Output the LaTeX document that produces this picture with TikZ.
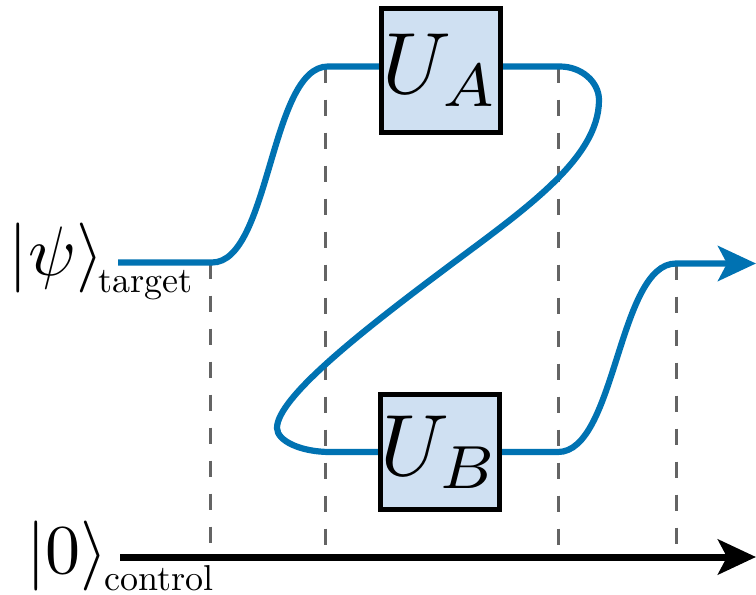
\documentclass[tikz,border=0pt]{standalone}
\usepackage{graphicx}
\usetikzlibrary{arrows.meta}
\definecolor{qblue}{RGB}{0,114,178}
\definecolor{boxfill}{RGB}{207,224,242}
\definecolor{dashgray}{RGB}{100,100,100}
\pgfdeclarelayer{bg}
\pgfsetlayers{bg,main}
\begin{document}
\begin{tikzpicture}[x=1pt,y=-1pt,
  wire/.style={qblue,line width=6.2pt},
  cwire/.style={black,line width=7pt},
  gate/.style={draw=black,line width=5pt,fill=boxfill,inner sep=0pt},
  guide/.style={dashgray,line width=3pt,dash pattern=on 16pt off 17pt},
  tipb/.style={-{Stealth[length=38pt,width=35pt,inset=9pt]}},
  lbl/.style={anchor=base west,inner sep=0pt}]
\useasboundingbox (0,0) rectangle (756,595);

% gates
\node[gate,minimum width=119pt,minimum height=124pt] (UA) at (441,70.5) {\scalebox{8.7}{$U_A$}};
\node[gate,minimum width=117pt,minimum height=115pt] (UB) at (440,452) {\scalebox{8.7}{$U_B$}};

% labels
\node[lbl] (psi) at (8.6,275) {\scalebox{7}{$|\psi\rangle$}};
\node[lbl] (tgt) at (98,292) {\scalebox{3.6}{target}};
\node[lbl] (zero) at (26,573) {\scalebox{7}{$|0\rangle$}};
\node[lbl] (ctl) at (104,590) {\scalebox{3.6}{control}};

% key coordinates
\coordinate (ya) at (0,66.5);
\coordinate (yb) at (0,452);
\coordinate (tin) at (118,262.5);
\coordinate (s1a) at (212,262.5);
\coordinate (s1b) at (328,66.5);
\coordinate (la) at (560,66.5);
\coordinate (lb) at (330,452);
\coordinate (s2a) at (558,452);
\coordinate (s2b) at (676,263.5);
\coordinate (tout) at (756,263.5);
\coordinate (cin) at (120,557);
\coordinate (cout) at (756,557);
\coordinate (g1) at (210,262.5);
\coordinate (g2) at (325,66.5);
\coordinate (g3) at (558,66.5);
\coordinate (g4) at (676,263.5);

\begin{pgfonlayer}{bg}
  \foreach \g in {g1,g2,g3,g4}
    \draw[guide] (\g) -- (\g |- cin);
  \draw[cwire,tipb] (cin) -- (cout);
  \draw[wire] (tin) -- (s1a) .. controls +(58,0) and +(-58,0) .. (s1b) -- (UA.west |- ya);
  \draw[wire] (UA.east |- ya) -- (la)
     .. controls (581.5,66.5) and (599,82) .. (599,100)
     .. controls (599,160) and (521,212) .. (441,272)
     .. controls (361,332) and (277,398) .. (277,428)
     .. controls (277,441) and (301,452) .. (lb) -- (UB.west |- yb);
  \draw[wire,tipb] (UB.east |- yb) -- (s2a) .. controls +(58,0) and +(-58,0) .. (s2b) -- (tout);
\end{pgfonlayer}
\end{tikzpicture}
\end{document}
